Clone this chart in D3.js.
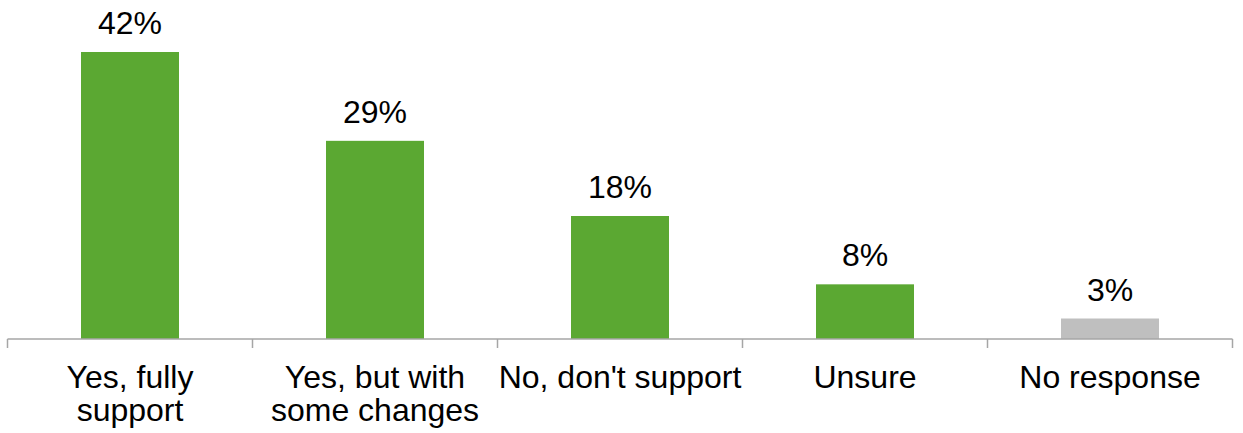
<!DOCTYPE html>
<html><head><meta charset="utf-8">
<script src="https://cdn.jsdelivr.net/npm/d3@7"></script>
<style>html,body{margin:0;padding:0;background:#fff;}svg{display:block;}</style>
</head><body>
<svg id="chart" width="1243" height="433"></svg>
<script>
const categories = [["Yes, fully","support"],["Yes, but with","some changes"],["No, don't support"],["Unsure"],["No response"]];
const values = [42, 29, 18, 8, 3];
const valueLabels = ["42%","29%","18%","8%","3%"];
const barColors = ["#5BA832","#5BA832","#5BA832","#5BA832","#BFBFBF"];

const svg = d3.select("#chart");
const font = "'Liberation Sans', Arial, sans-serif";
const baseY = 339;
const x = d3.scaleBand().domain(d3.range(values.length)).range([7.5, 1232.5]).paddingInner(0.6).paddingOuter(0.3);
const y = d3.scaleLinear().domain([0, 42]).range([baseY, 52]);

svg.selectAll("rect.bar").data(values).join("rect")
  .attr("x", (d,i) => x(i)).attr("width", x.bandwidth())
  .attr("y", d => y(d)).attr("height", d => baseY - y(d))
  .attr("fill", (d,i) => barColors[i]);

svg.selectAll("text.val").data(values).join("text")
  .attr("x", (d,i) => x(i) + x.bandwidth()/2).attr("y", d => y(d) - 18)
  .attr("text-anchor","middle").attr("font-family", font).attr("font-size", 32)
  .attr("fill","#000").text((d,i) => valueLabels[i]);

// axis
const step = x.step();
const edges = d3.range(values.length + 1).map(i => 7.5 + i*step);
svg.append("line").attr("x1", edges[0]).attr("x2", edges[edges.length-1]).attr("y1", baseY).attr("y2", baseY)
  .attr("stroke","#A6A6A6").attr("stroke-width",1.5);
svg.selectAll("line.tick").data(edges).join("line")
  .attr("x1", d=>d).attr("x2", d=>d).attr("y1", baseY).attr("y2", baseY+9)
  .attr("stroke","#A6A6A6").attr("stroke-width",1.5);

const cat = svg.selectAll("text.cat").data(categories).join("text")
  .attr("text-anchor","middle").attr("font-family", font).attr("font-size", 32).attr("fill","#000");
cat.each(function(lines, i){
  const t = d3.select(this);
  lines.forEach((l, j) => {
    t.append("tspan").attr("x", x(i) + x.bandwidth()/2).attr("y", 388 + j*33).text(l);
  });
});
</script>
</body></html>
